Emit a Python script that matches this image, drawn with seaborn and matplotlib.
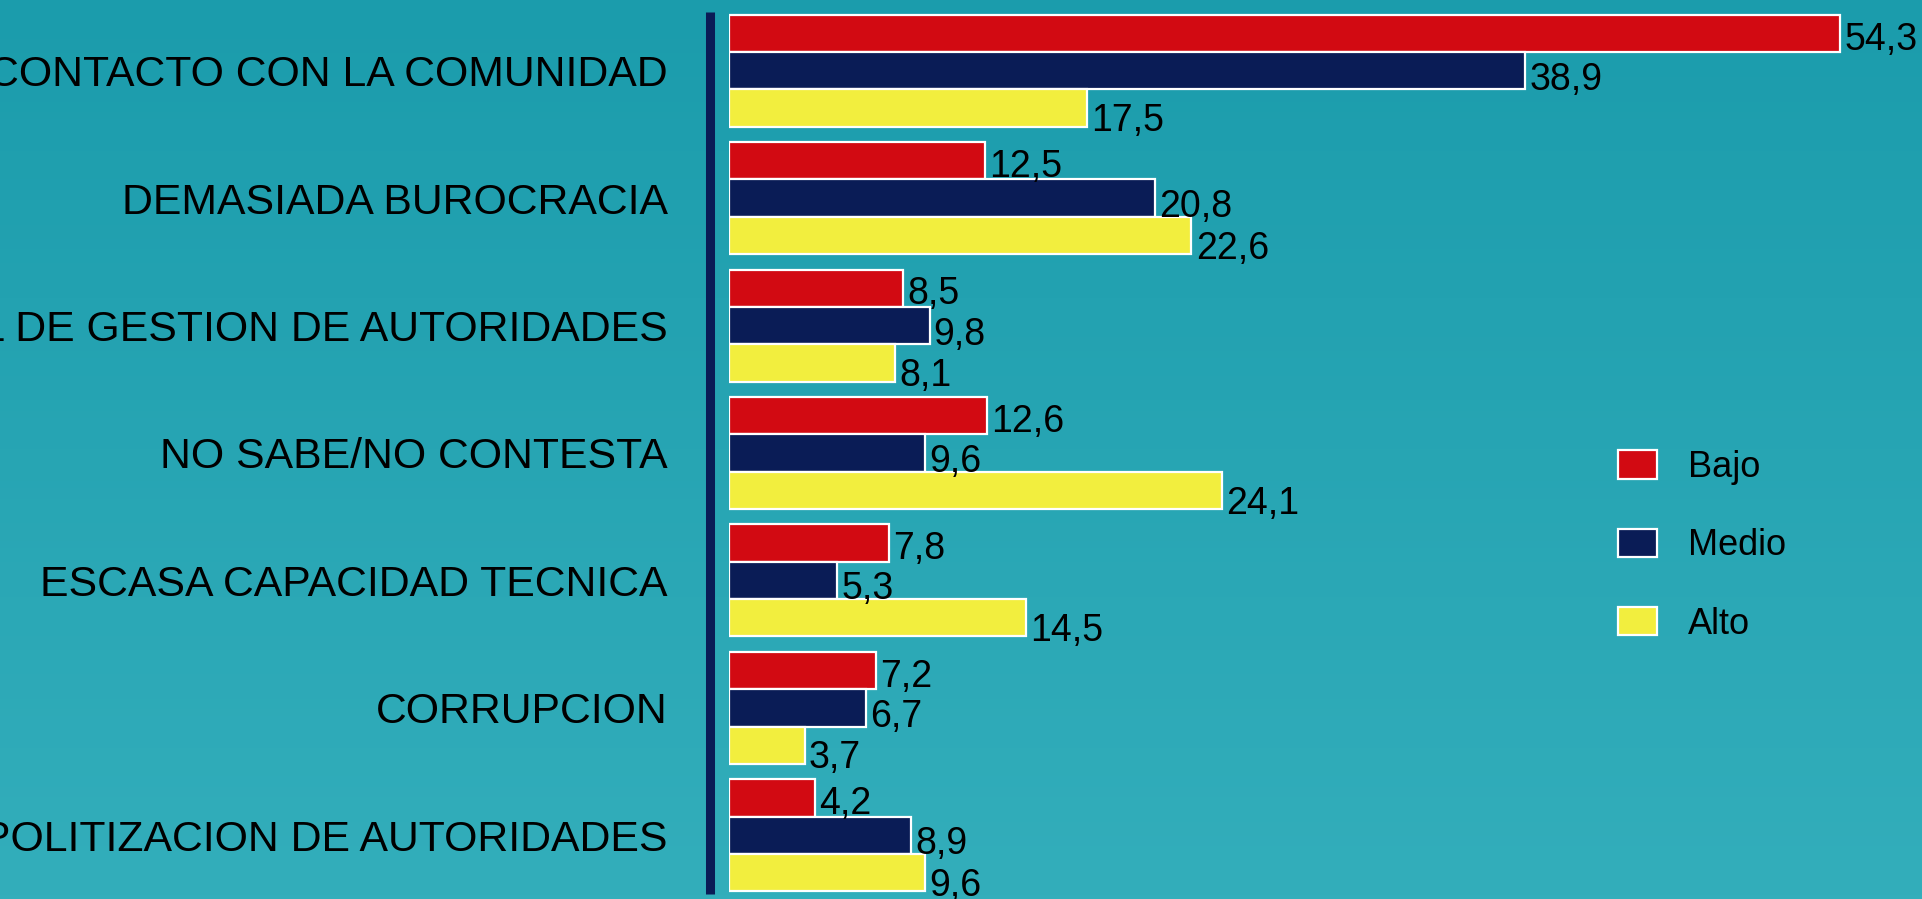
import numpy as np
import pandas as pd
import seaborn as sns
import matplotlib.pyplot as plt

# Data
categorias = [
    'FALTA DE CONTACTO CON LA COMUNIDAD',
    'DEMASIADA BUROCRACIA',
    'BAJO NIVEL DE GESTION DE AUTORIDADES',
    'NO SABE/NO CONTESTA',
    'ESCASA CAPACIDAD TECNICA',
    'CORRUPCION',
    'POLITIZACION DE AUTORIDADES',
]
niveles = ['Bajo', 'Medio', 'Alto']
bajo = [54.3, 12.5, 8.5, 12.6, 7.8, 7.2, 4.2]
medio = [38.9, 20.8, 9.8, 9.6, 5.3, 6.7, 8.9]
alto = [17.5, 22.6, 8.1, 24.1, 14.5, 3.7, 9.6]

df = pd.DataFrame({
    'Problema': categorias * 3,
    'Nivel': ['Bajo'] * 7 + ['Medio'] * 7 + ['Alto'] * 7,
    'Valor': bajo + medio + alto,
})

colores = {'Bajo': '#d20a12', 'Medio': '#0a1c56', 'Alto': '#f2ee3e'}

sns.set_theme(style='white')
plt.rcParams['font.family'] = ['Liberation Sans', 'DejaVu Sans']

fig = plt.figure(figsize=(19.22, 8.99), dpi=100)

# gradient background
bg = fig.add_axes([0, 0, 1, 1], zorder=0)
top = np.array([27, 156, 172]) / 255
bot = np.array([51, 174, 187]) / 255
t = np.linspace(0, 1, 256)[:, None]
grad = (top[None, :] * (1 - t) + bot[None, :] * t)[:, None, :]
bg.imshow(grad, aspect='auto', extent=[0, 1, 0, 1])
bg.axis('off')

ax = fig.add_axes([729 / 1922, 0, 1 - 729 / 1922, 1 - 7 / 899], zorder=1)
ax.patch.set_alpha(0)

sns.barplot(data=df, y='Problema', x='Valor', hue='Nivel', hue_order=niveles,
            palette=colores, saturation=1, orient='h', width=0.88,
            edgecolor='white', linewidth=1.6, ax=ax)

ax.set_xlim(0, 58.3)
ax.set_ylim(6.5, -0.5)
ax.set_xlabel('')
ax.set_ylabel('')
ax.set_xticks([])
ax.tick_params(axis='y', length=0, pad=30, labelsize=30.8, labelcolor='black')

for s in ['top', 'right', 'bottom']:
    ax.spines[s].set_visible(False)
ax.spines['left'].set_position(('outward', 14))
ax.spines['left'].set_color('#0a1c56')
ax.spines['left'].set_linewidth(6.5)
ax.spines['left'].set_capstyle('butt')
ax.spines['left'].set_bounds(-0.46, 6.46)

# value labels
bajadas = [4.5, 6.5, 9.5]
for cont, dy in zip(ax.containers, bajadas):
    for bar in cont:
        w = bar.get_width()
        ax.annotate(f'{w:.1f}'.replace('.', ','),
                    xy=(w, bar.get_y() + bar.get_height() / 2),
                    xytext=(3, -dy), textcoords='offset points',
                    ha='left', va='center', fontsize=27, color='black')

leg = ax.legend(loc='center left', bbox_to_anchor=(0.8345, 0.393),
                bbox_transform=fig.transFigure, frameon=False, fontsize=26,
                labelcolor='black',
                handlelength=1.08, handleheight=0.83, handletextpad=0.85,
                labelspacing=1.2, borderaxespad=0, title=None)
for h in leg.legend_handles:
    h.set_edgecolor('white')
    h.set_linewidth(1.6)

fig.savefig('out.png', dpi=100)
